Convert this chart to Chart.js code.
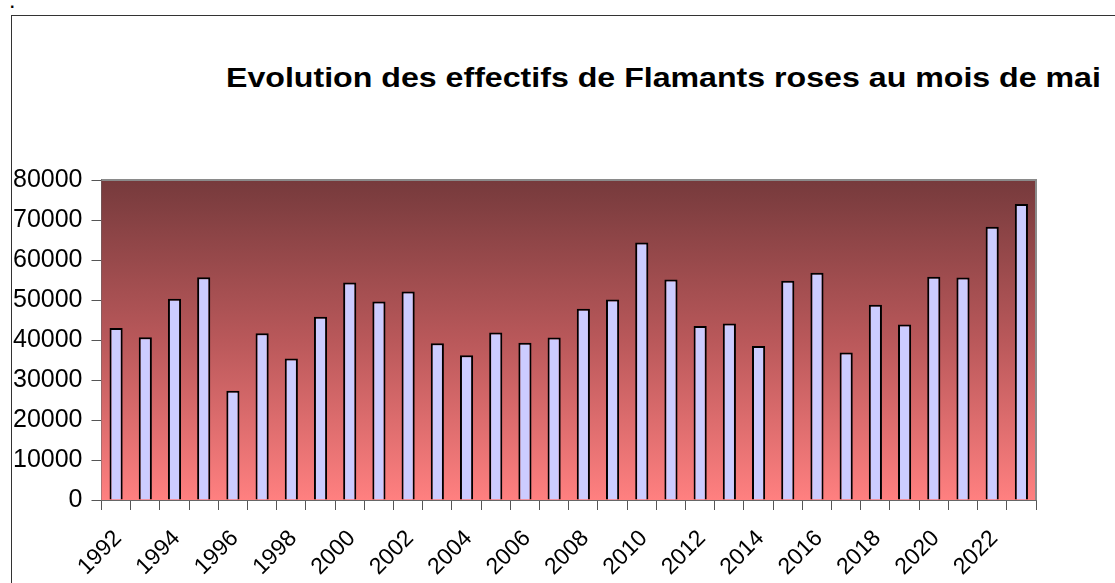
<!DOCTYPE html>
<html>
<head>
<meta charset="utf-8">
<script src="https://cdn.jsdelivr.net/npm/chart.js@4/dist/chart.umd.min.js"></script>
<style>
  html, body { margin: 0; padding: 0; background: #fff; }
  #wrap { position: relative; width: 1115px; height: 583px; overflow: hidden; font-family: "Liberation Sans", Arial, sans-serif; }
  #frame { position: absolute; left: 11px; top: 15px; right: -5px; bottom: -5px; border-left: 1px solid #333; border-top: 1px solid #333; }
  #dot { position: absolute; left: 10px; top: -6px; font-size: 16px; font-weight: bold; color: #000; }
  #title { position: absolute; left: 226px; top: 65px; font-size: 27px; line-height: 27px; font-weight: bold; color: #000;
           white-space: nowrap; transform: scaleX(1.19); transform-origin: 0 0; }
  canvas { position: absolute; left: 0; top: 0; }
</style>
</head>
<body>
<div id="wrap">
  <div id="dot">.</div>
  <div id="frame"></div>
  <div id="title">Evolution des effectifs de Flamants roses au mois de mai</div>
  <canvas id="chart" width="1115" height="583"></canvas>
</div>
<script>
// effectifs
var years = ['1992','1993','1994','1995','1996','1997','1998','1999','2000','2001',
             '2002','2003','2004','2005','2006','2007','2008','2009','2010','2011',
             '2012','2013','2014','2015','2016','2017','2018','2019','2020','2021',
             '2022','2023'];
var counts = [43000, 40700, 50300, 55700, 27300, 41700, 35400, 45800, 54400, 49600,
              52100, 39200, 36200, 41900, 39300, 40600, 47800, 50100, 64400, 55100,
              43500, 44100, 38500, 54800, 56800, 36900, 48800, 43900, 55800, 55600,
              68300, 74000];
var labelledYears = ['1992','1994','1996','1998','2000','2002','2004','2006',
                     '2008','2010','2012','2014','2016','2018','2020','2022'];
var yTicks = [0, 10000, 20000, 30000, 40000, 50000, 60000, 70000, 80000];

var font = "'Liberation Sans', Arial, sans-serif";

// fond degrade de la zone de trace + cadre gris haut/droite
var plotBg = {
  id: 'plotBg',
  beforeDatasetsDraw: function (chart) {
    var a = chart.chartArea, ctx = chart.ctx;
    var g = ctx.createLinearGradient(0, a.top, 0, a.bottom);
    g.addColorStop(0, 'rgb(118,58,60)');
    g.addColorStop(0.5, 'rgb(185,88,90)');
    g.addColorStop(1, 'rgb(255,128,128)');
    ctx.save();
    ctx.fillStyle = g;
    ctx.fillRect(a.left, a.top, a.right - a.left, a.bottom - a.top);
    ctx.strokeStyle = '#8a8a8a';
    ctx.lineWidth = 2;
    ctx.beginPath();
    ctx.moveTo(a.left, a.top);
    ctx.lineTo(a.right, a.top);
    ctx.lineTo(a.right, a.bottom);
    ctx.stroke();
    ctx.restore();
  }
};

new Chart(document.getElementById('chart'), {
  type: 'bar',
  data: {
    labels: years,
    datasets: [{
      data: counts,
      backgroundColor: '#ccccff',
      borderColor: '#000',
      borderWidth: 2,
      categoryPercentage: 1,
      barPercentage: 0.45
    }]
  },
  options: {
    responsive: false,
    animation: false,
    layout: { padding: { left: 0, right: 79, top: 180, bottom: 0 } },
    plugins: { legend: { display: false }, tooltip: { enabled: false } },
    scales: {
      x: {
        grid: { offset: true, drawOnChartArea: false, color: '#555', tickLength: 10 },
        border: { color: '#666', width: 2 },
        afterFit: function (s) { s.height = 83; },
        ticks: {
          autoSkip: false,
          maxRotation: 45,
          minRotation: 45,
          padding: 15,
          labelOffset: 2,
          color: '#000',
          font: { family: font, size: 23 },
          callback: function (v) {
            var y = this.getLabelForValue(v);
            return labelledYears.indexOf(y) >= 0 ? y : '';
          }
        }
      },
      y: {
        min: 0,
        max: 80000,
        afterFit: function (s) { s.width = 101.5; },
        afterBuildTicks: function (s) { s.ticks = yTicks.map(function (v) { return { value: v }; }); },
        grid: { drawOnChartArea: false, color: '#555', tickLength: 10 },
        border: { color: '#666', width: 2 },
        ticks: {
          padding: 9,
          color: '#000',
          font: { family: font, size: 25 },
          callback: function (v) { return String(v); }
        }
      }
    }
  },
  plugins: [plotBg]
});
</script>
</body>
</html>
